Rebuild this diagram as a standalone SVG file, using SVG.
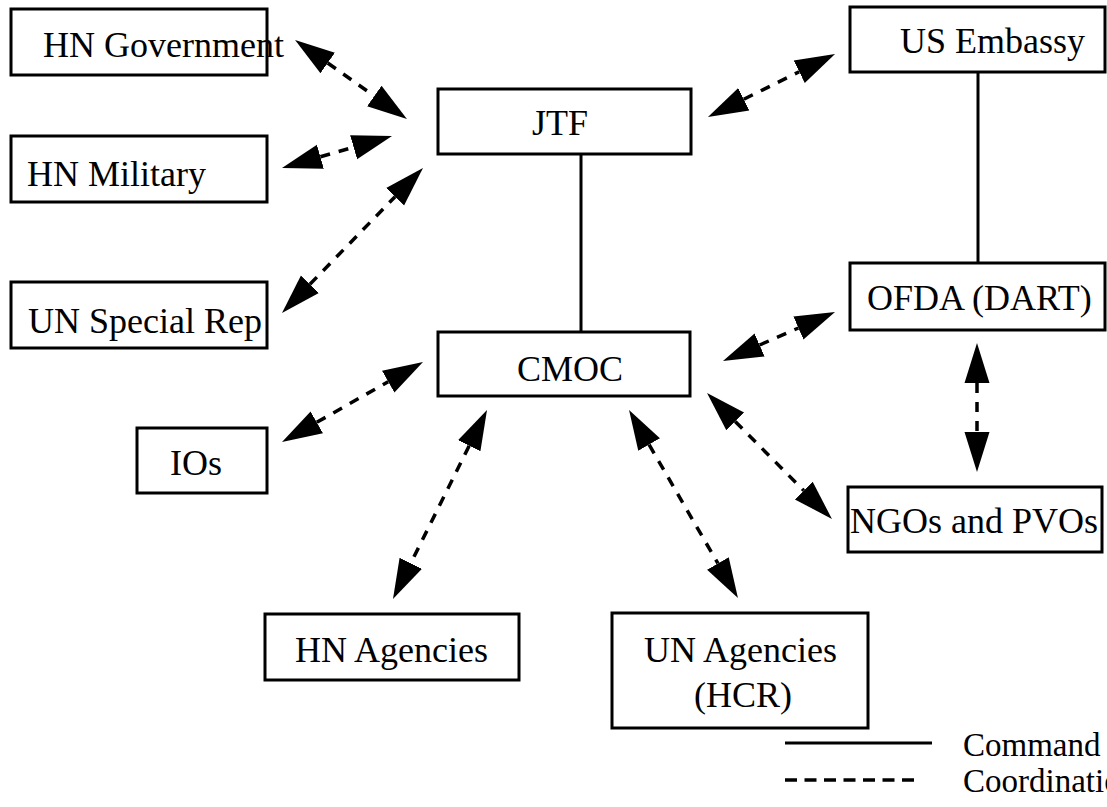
<svg xmlns="http://www.w3.org/2000/svg" width="1107" height="807" viewBox="0 0 1107 807">
<style>
.box{fill:#fff;stroke:#000;stroke-width:3}
.lbl{font-family:"Liberation Serif","Times New Roman",serif;font-size:36px;fill:#000}
.leg{font-family:"Liberation Serif","Times New Roman",serif;font-size:33px;fill:#000}
.cmd{stroke:#000;stroke-width:3;fill:none}
.crd{stroke:#000;stroke-width:3.5;fill:none;stroke-dasharray:10 9;marker-start:url(#ah);marker-end:url(#ah)}
</style>
<defs>
<marker id="ah" markerUnits="userSpaceOnUse" markerWidth="42" markerHeight="28" viewBox="0 -14 42 28" refX="0" refY="0" orient="auto-start-reverse">
<path d="M0,-12.5 L40,0 L0,12.5 z" fill="#000"/>
</marker>
</defs>
<rect width="1107" height="807" fill="#fff"/>
<g id="connectors">
<line class="cmd" x1="581" y1="154" x2="581" y2="332"/>
<line class="cmd" x1="978" y1="72" x2="978" y2="263"/>
<line class="crd" x1="327.7" y1="63" x2="374.3" y2="96"/>
<line class="crd" x1="320.4" y1="156.8" x2="353.6" y2="147.2"/>
<line class="crd" x1="309.9" y1="284.3" x2="395.1" y2="196.7"/>
<line class="crd" x1="743.8" y1="99.2" x2="799.2" y2="71.8"/>
<line class="crd" x1="759.6" y1="345" x2="798.4" y2="328"/>
<line class="crd" x1="316.8" y1="422.3" x2="388.2" y2="381.7"/>
<line class="crd" x1="469.2" y1="445.8" x2="410.8" y2="563.2"/>
<line class="crd" x1="649.1" y1="444.6" x2="717.9" y2="563.4"/>
<line class="crd" x1="735.2" y1="421.4" x2="803.8" y2="490.6"/>
<line class="crd" x1="977" y1="383" x2="977" y2="432"/>
</g>
<g id="hn-government"><rect class="box" x="11" y="9" width="256" height="66"/><text class="lbl" x="43" y="57">HN Government</text></g>
<g id="hn-military"><rect class="box" x="11" y="136" width="256" height="66"/><text class="lbl" x="27" y="186">HN Military</text></g>
<g id="un-special-rep"><rect class="box" x="11" y="282" width="256" height="66"/><text class="lbl" x="28" y="333">UN Special Rep</text></g>
<g id="jtf"><rect class="box" x="438" y="89" width="253" height="65"/><text class="lbl" x="532" y="135">JTF</text></g>
<g id="cmoc"><rect class="box" x="438" y="332" width="252" height="64"/><text class="lbl" x="517" y="381">CMOC</text></g>
<g id="us-embassy"><rect class="box" x="850" y="7" width="255" height="65"/><text class="lbl" x="900" y="53">US Embassy</text></g>
<g id="ofda"><rect class="box" x="850" y="263" width="255" height="67"/><text class="lbl" x="867" y="310">OFDA (DART)</text></g>
<g id="ios"><rect class="box" x="137" y="428" width="130" height="65"/><text class="lbl" x="170" y="475">IOs</text></g>
<g id="ngos-pvos"><rect class="box" x="848" y="487" width="254" height="65"/><text class="lbl" x="850" y="533">NGOs and PVOs</text></g>
<g id="hn-agencies"><rect class="box" x="265" y="614" width="254" height="66"/><text class="lbl" x="295" y="662">HN Agencies</text></g>
<g id="un-agencies"><rect class="box" x="612" y="613" width="256" height="115"/><text class="lbl" x="644" y="662">UN Agencies</text><text class="lbl" x="694" y="707">(HCR)</text></g>
<g id="legend">
<line class="cmd" x1="785" y1="743" x2="932" y2="743"/>
<line x1="785" y1="780" x2="920" y2="780" stroke="#000" stroke-width="3.5" stroke-dasharray="12 7.5"/>
<text class="leg" x="963" y="756">Command</text>
<text class="leg" x="963" y="792">Coordination</text>
</g>
</svg>
